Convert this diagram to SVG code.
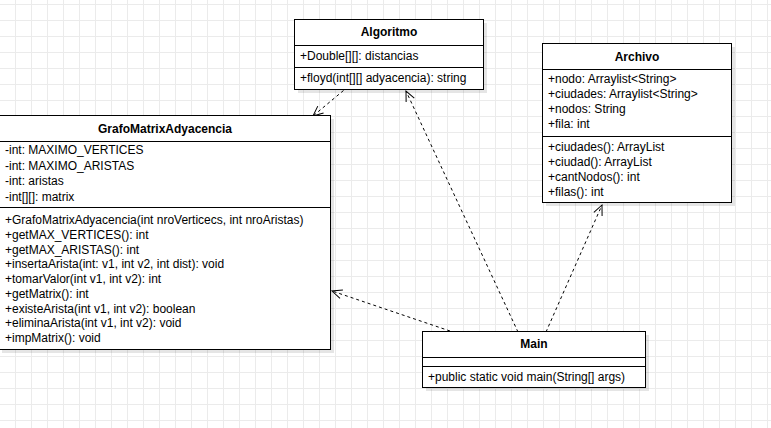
<svg xmlns="http://www.w3.org/2000/svg" width="771" height="428" viewBox="0 0 771 428">
<style>
.box{fill:#fff;stroke:#000;stroke-width:1}
.sh{fill:#000;opacity:0.1}
.sep{stroke:#000;stroke-width:1}
text{font-family:"Liberation Sans",Arial,sans-serif;font-size:12px;fill:#000}
.t{font-weight:bold;text-anchor:middle}
.c{fill:none;stroke:#000;stroke-width:1;stroke-dasharray:3,3}
</style>
<defs>
<pattern id="grid" x="15" y="4" width="16" height="16" patternUnits="userSpaceOnUse">
<path d="M0 0.5H16M0.5 0V16" stroke="#ebebeb" stroke-width="1" fill="none"/>
</pattern>
<marker id="open" viewBox="0 0 12 12" refX="11" refY="6" markerWidth="12" markerHeight="12" markerUnits="userSpaceOnUse" orient="auto">
<path d="M1 1.5L11 6L1 10.5" fill="none" stroke="#000" stroke-width="1"/>
</marker>
</defs>
<rect width="771" height="428" fill="#fff"/>
<rect width="771" height="428" fill="url(#grid)"/>

<g id="connectors">
<path class="c" d="M343.5 90.5L313 116" marker-end="url(#open)"/>
<path class="c" d="M518 332L406 91" marker-end="url(#open)"/>
<path class="c" d="M450 331L332 291" marker-end="url(#open)"/>
<path class="c" d="M546 332L602 205" marker-end="url(#open)"/>
</g>

<g id="algoritmo">
<rect class="sh" x="298" y="23" width="189" height="70"/>
<rect class="box" x="294.5" y="19.5" width="189" height="70"/>
<line class="sep" x1="294.5" y1="45.5" x2="483.5" y2="45.5"/>
<line class="sep" x1="294.5" y1="67.5" x2="483.5" y2="67.5"/>
<text class="t" x="389" y="36">Algoritmo</text>
<text x="300" y="60">+Double[][]: distancias</text>
<text x="300" y="82">+floyd(int[][] adyacencia): string</text>
</g>

<g id="grafo">
<rect class="sh" x="2" y="119" width="332" height="234"/>
<rect class="box" x="-1.5" y="115.5" width="332" height="234"/>
<line class="sep" x1="-1.5" y1="141.5" x2="330.5" y2="141.5"/>
<line class="sep" x1="-1.5" y1="207.5" x2="330.5" y2="207.5"/>
<text class="t" x="165" y="133">GrafoMatrixAdyacencia</text>
<text x="5" y="154">-int: MAXIMO_VERTICES</text>
<text x="5" y="169.5">-int: MAXIMO_ARISTAS</text>
<text x="5" y="185">-int: aristas</text>
<text x="5" y="200.5">-int[][]: matrix</text>
<text x="5" y="224">+GrafoMatrixAdyacencia(int nroVerticecs, int nroAristas)</text>
<text x="5" y="238.5">+getMAX_VERTICES(): int</text>
<text x="5" y="253.5">+getMAX_ARISTAS(): int</text>
<text x="5" y="268">+insertaArista(int: v1, int v2, int dist): void</text>
<text x="5" y="283">+tomarValor(int v1, int v2): int</text>
<text x="5" y="298">+getMatrix(): int</text>
<text x="5" y="312.5">+existeArista(int v1, int v2): boolean</text>
<text x="5" y="327">+eliminaArista(int v1, int v2): void</text>
<text x="5" y="342">+impMatrix(): void</text>
</g>

<g id="archivo">
<rect class="sh" x="546" y="47" width="189" height="159"/>
<rect class="box" x="542.5" y="43.5" width="189" height="159"/>
<line class="sep" x1="542.5" y1="69.5" x2="731.5" y2="69.5"/>
<line class="sep" x1="542.5" y1="136.5" x2="731.5" y2="136.5"/>
<text class="t" x="637" y="61">Archivo</text>
<text x="548" y="83">+nodo: Arraylist&lt;String&gt;</text>
<text x="548" y="98">+ciudades: Arraylist&lt;String&gt;</text>
<text x="548" y="113">+nodos: String</text>
<text x="548" y="128">+fila: int</text>
<text x="548" y="151">+ciudades(): ArrayList</text>
<text x="548" y="166">+ciudad(): ArrayList</text>
<text x="548" y="181">+cantNodos(): int</text>
<text x="548" y="196">+filas(): int</text>
</g>

<g id="main">
<rect class="sh" x="426" y="335" width="223" height="56"/>
<rect class="box" x="422.5" y="331.5" width="223" height="56"/>
<line class="sep" x1="422.5" y1="357.5" x2="645.5" y2="357.5"/>
<line class="sep" x1="422.5" y1="366.5" x2="645.5" y2="366.5"/>
<text class="t" x="534" y="348">Main</text>
<text x="428" y="381">+public static void main(String[] args)</text>
</g>
</svg>
